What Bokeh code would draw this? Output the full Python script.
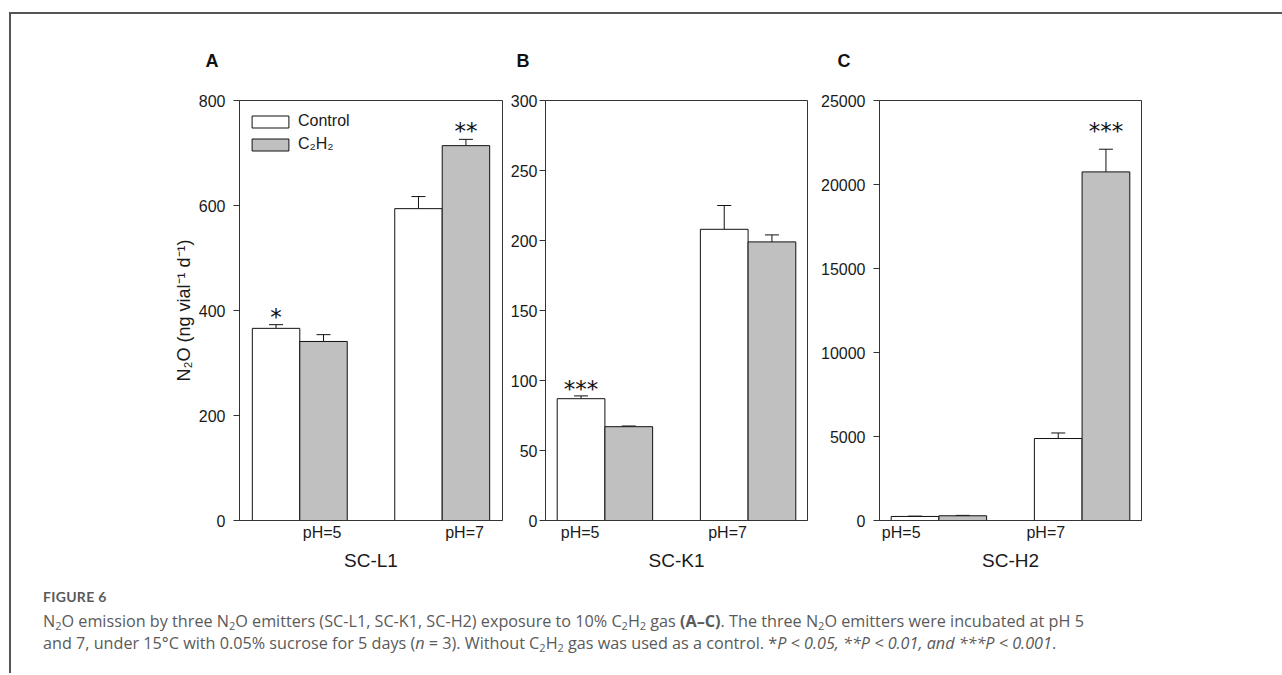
from bokeh.plotting import figure
from bokeh.models import (Range1d, FixedTicker, Title, Whisker, ColumnDataSource,
                          TeeHead, Div, Legend, LegendItem)
from bokeh.layouts import row, column
from bokeh.embed import file_html
from bokeh.resources import INLINE
from bokeh.core.properties import value

# ---------------- data ----------------
groups = ["pH=5", "pH=7"]
group_x = [1, 4]

a_control = [366, 594]
a_control_err = [7, 23]
a_c2h2 = [341, 714]
a_c2h2_err = [13, 12]
a_control_sig = ["*", ""]
a_c2h2_sig = ["", "**"]

b_control = [87, 208]
b_control_err = [2, 17]
b_c2h2 = [67, 199]
b_c2h2_err = [0.5, 5]
b_control_sig = ["***", ""]
b_c2h2_sig = ["", ""]

c_control = [240, 4880]
c_control_err = [20, 330]
c_c2h2 = [280, 20750]
c_c2h2_err = [25, 1350]
c_control_sig = ["", ""]
c_c2h2_sig = ["", "***"]

a_yticks = [0, 200, 400, 600, 800]
b_yticks = [0, 50, 100, 150, 200, 250, 300]
c_yticks = [0, 5000, 10000, 15000, 20000, 25000]

FONT = "Liberation Sans"
FRAME_H = 420
FIG_H = 566
TOP = 86
BOTTOM = 60


def panel(width, min_left, min_right, x_pad, y_max, y_ticks, label_ticks,
          control, control_err, c2h2, c2h2_err, sig_c, sig_g, sig_gap,
          letter, letter_dx, xlabel, ylabel=None, ystandoff=8, legend=False):
    p = figure(width=width, height=FIG_H,
               x_range=Range1d(-x_pad, 5 + x_pad), y_range=Range1d(0, y_max),
               output_backend="svg", toolbar_location=None,
               min_border_left=min_left, min_border_right=min_right,
               min_border_top=TOP, min_border_bottom=BOTTOM,
               background_fill_color="white", border_fill_color="white")
    p.xgrid.visible = False
    p.ygrid.visible = False
    p.outline_line_color = "#333333"
    p.outline_line_width = 1

    src_c = ColumnDataSource(dict(
        x=[g - 0.5 for g in group_x], top=control,
        upper=[v + e for v, e in zip(control, control_err)], sig=sig_c))
    src_g = ColumnDataSource(dict(
        x=[g + 0.5 for g in group_x], top=c2h2,
        upper=[v + e for v, e in zip(c2h2, c2h2_err)], sig=sig_g))

    r1 = p.vbar(x="x", top="top", bottom=0, width=1, source=src_c,
                fill_color="white", line_color="#111111", line_width=1)
    r2 = p.vbar(x="x", top="top", bottom=0, width=1, source=src_g,
                fill_color="#c0c0c0", line_color="#111111", line_width=1)
    for src in (src_c, src_g):
        p.add_layout(Whisker(source=src, base="x", upper="upper", lower="top",
                             dimension="height", line_color="#111111", line_width=1,
                             upper_head=TeeHead(size=14, line_color="#111111", line_width=1),
                             lower_head=None))
        p.text(x="x", y="upper", text="sig", source=src, text_align="center",
               text_baseline="alphabetic", y_offset=1 - sig_gap,
               text_font=value("DejaVu Sans"), text_font_size="23px",
               text_color="#111111")

    # y axis
    ya = p.yaxis[0]
    ya.ticker = FixedTicker(ticks=y_ticks)
    ya.major_label_text_font = FONT
    ya.major_label_text_font_size = "16px"
    ya.major_label_text_color = "#1a1a1a"
    ya.major_tick_out = 6
    ya.major_tick_in = 0
    ya.minor_tick_out = 0
    ya.minor_tick_in = 0
    ya.axis_line_color = "#333333"
    ya.major_tick_line_color = "#333333"
    ya.major_label_standoff = ystandoff
    if ylabel:
        ya.axis_label = ylabel
        ya.axis_label_text_font = FONT
        ya.axis_label_text_font_size = "18px"
        ya.axis_label_text_font_style = "normal"
        ya.axis_label_text_color = "#1a1a1a"
        ya.axis_label_standoff = 2

    # x axis
    xa = p.xaxis[0]
    xa.ticker = FixedTicker(ticks=label_ticks)
    xa.major_label_overrides = {t: g for t, g in zip(label_ticks, groups)}
    xa.major_label_text_font = FONT
    xa.major_label_text_font_size = "16px"
    xa.major_label_text_color = "#1a1a1a"
    xa.major_tick_out = 0
    xa.major_tick_in = 0
    xa.minor_tick_out = 0
    xa.minor_tick_in = 0
    xa.major_label_standoff = 3
    xa.axis_line_color = "#333333"
    xa.axis_label = xlabel
    xa.axis_label_text_font = FONT
    xa.axis_label_text_font_size = "19px"
    xa.axis_label_text_font_style = "normal"
    xa.axis_label_text_color = "#1a1a1a"
    xa.axis_label_standoff = 6

    # panel letter as a title above the frame
    p.add_layout(Title(text=letter, align="left", offset=letter_dx, standoff=60,
                       text_font=FONT, text_font_size="18px", text_font_style="bold",
                       text_color="#111111"), "above")

    if legend:
        lg = Legend(items=[LegendItem(label="Control", renderers=[r1]),
                           LegendItem(label="C\u2082H\u2082", renderers=[r2])],
                    location=(8, 366), margin=0, padding=0, spacing=3,
                    glyph_width=46, glyph_height=15, label_height=20,
                    label_standoff=5, label_text_font=FONT,
                    label_text_font_size="16px", label_text_color="#1a1a1a",
                    border_line_color=None, background_fill_alpha=0)
        p.add_layout(lg)
    return p


pA = panel(492, 228, 1, 0.27, 800, a_yticks, [1.47, 4.47],
           a_control, a_control_err, a_c2h2, a_c2h2_err, a_control_sig, a_c2h2_sig, 9,
           "A", -34, "SC-L1", ylabel="N\u2082O (ng vial\u207b\u00b9 d\u207b\u00b9)",
           ystandoff=8, legend=True)
pB = panel(309, 42, 5, 0.245, 300, b_yticks, [0.48, 3.57],
           b_control, b_control_err, b_c2h2, b_c2h2_err, b_control_sig, b_c2h2_sig, 8,
           "B", -29, "SC-K1", ystandoff=2)
pC = panel(470, 67, 141, 0.245, 25000, c_yticks, [0.21, 3.24],
           c_control, c_control_err, c_c2h2, c_c2h2_err, c_control_sig, c_c2h2_sig, 19,
           "C", -42, "SC-H2", ystandoff=8)

sub = '<span style="font-size:11px;position:relative;top:3px;">2</span>'
caption_html = (
    '<div style="font-family:\'Open Sans\',Lato,sans-serif;color:#5a5a5a;white-space:nowrap;'
    'padding-left:32px;padding-top:7px;">'
    '<div style="font-weight:bold;font-size:14px;line-height:20px;margin-bottom:4px;'
    'font-family:Lato,sans-serif;letter-spacing:0.3px;">FIGURE 6</div>'
    '<div style="font-size:16.2px;line-height:20px;">'
    'N' + sub + 'O emission by three N' + sub + 'O emitters (SC-L1, SC-K1, SC-H2) exposure to 10% C'
    + sub + 'H' + sub + ' gas <b>(A\u2013C)</b>. The three N' + sub +
    'O emitters were incubated at pH 5<br>'
    'and 7, under 15\u00b0C with 0.05% sucrose for 5 days (<i>n</i> = 3). Without C' + sub + 'H' + sub +
    ' gas was used as a control. *<i>P &lt; 0.05, **P &lt; 0.01, and ***P &lt; 0.001</i>.'
    '</div></div>'
)
cap = Div(text=caption_html, width=1271, height=93, margin=0)

layout = column(row(pA, pB, pC), cap, margin=(12, 0, 0, 9),
                styles={"border-top": "2px solid #555555", "border-left": "2px solid #555555"})

open("out.html", "w").write(file_html(layout, INLINE))
